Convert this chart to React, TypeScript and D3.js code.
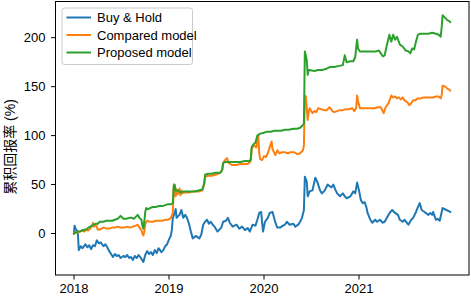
import React from "react";
import * as d3 from "d3";

// Decimal-year time stamps and cumulative return (%) for each series
const buyHoldDates = [2018.0, 2018.005, 2018.016, 2018.03, 2018.04, 2018.05, 2018.07, 2018.09, 2018.12, 2018.14, 2018.16, 2018.18, 2018.2, 2018.22, 2018.24, 2018.26, 2018.28, 2018.31, 2018.33, 2018.35, 2018.37, 2018.39, 2018.41, 2018.43, 2018.45, 2018.47, 2018.49, 2018.52, 2018.54, 2018.56, 2018.58, 2018.6, 2018.62, 2018.64, 2018.66, 2018.68, 2018.71, 2018.73, 2018.75, 2018.77, 2018.79, 2018.81, 2018.83, 2018.85, 2018.87, 2018.89, 2018.92, 2018.94, 2018.96, 2018.98, 2019.0, 2019.02, 2019.03, 2019.04, 2019.06, 2019.07, 2019.08, 2019.11, 2019.13, 2019.15, 2019.17, 2019.19, 2019.21, 2019.23, 2019.25, 2019.28, 2019.32, 2019.34, 2019.36, 2019.38, 2019.4, 2019.42, 2019.44, 2019.46, 2019.48, 2019.51, 2019.53, 2019.55, 2019.57, 2019.6, 2019.62, 2019.64, 2019.67, 2019.71, 2019.74, 2019.77, 2019.8, 2019.83, 2019.85, 2019.88, 2019.91, 2019.93, 2019.95, 2019.97, 2019.98, 2019.99, 2020.01, 2020.04, 2020.06, 2020.09, 2020.12, 2020.14, 2020.17, 2020.2, 2020.22, 2020.24, 2020.27, 2020.31, 2020.33, 2020.36, 2020.38, 2020.4, 2020.42, 2020.43, 2020.45, 2020.46, 2020.48, 2020.51, 2020.54, 2020.56, 2020.59, 2020.61, 2020.64, 2020.67, 2020.71, 2020.73, 2020.75, 2020.77, 2020.8, 2020.83, 2020.85, 2020.87, 2020.91, 2020.94, 2020.96, 2020.98, 2021.0, 2021.02, 2021.04, 2021.06, 2021.08, 2021.09, 2021.12, 2021.14, 2021.17, 2021.19, 2021.22, 2021.25, 2021.27, 2021.31, 2021.33, 2021.35, 2021.38, 2021.41, 2021.43, 2021.46, 2021.48, 2021.52, 2021.55, 2021.57, 2021.6, 2021.62, 2021.64, 2021.66, 2021.69, 2021.73, 2021.75, 2021.77, 2021.78, 2021.81, 2021.83, 2021.85, 2021.88, 2021.92, 2021.94, 2021.96];
const buyHoldValues = [0, 8, 5, 3, 1, -17, -13, -15, -11, -14, -12, -16, -12, -13, -7, -10, -9, -13, -11, -14, -18, -21, -24, -21, -23, -22, -25, -23, -24, -22, -25, -24, -27, -23, -25, -22, -26, -29, -22, -18, -21, -19, -22, -17, -20, -15, -19, -17, -13, -11, -6, -2, 4, 16, 21, 25, 16, 19, 24, 16, 19, 16, 10, 2, -5, -2.5, -5, -1, 9, 12, 14, 10, 12, 9, 7, 2, 4, 6, 12, 13, 16, 11, 7, 9, 5, 7, 3.5, 5.5, 2, 9, 8, 14, 21, 22, 11, 2, 12, 16, 21, 22, 11, 6, 6, 8, 9, 12, 9, 10, 7, 9, 12, 16, 24, 58, 53, 38, 43, 44, 57, 53, 44, 41, 44, 50, 47, 50, 45, 41, 38, 41, 38, 36, 38, 43, 41, 52, 44, 34, 31, 32, 26, 21, 14, 11, 14, 12, 14, 11, 12, 19, 22, 24, 21, 19, 14, 12, 14, 9, 14, 16, 22, 27, 31, 24, 22, 19, 21, 19, 22, 14, 15, 13, 26, 24, 23, 22];

const comparedDates = [2018.0, 2018.02, 2018.04, 2018.06, 2018.08, 2018.11, 2018.13, 2018.15, 2018.17, 2018.19, 2018.2, 2018.21, 2018.23, 2018.25, 2018.27, 2018.31, 2018.34, 2018.37, 2018.4, 2018.43, 2018.46, 2018.49, 2018.53, 2018.56, 2018.59, 2018.62, 2018.65, 2018.67, 2018.69, 2018.71, 2018.72, 2018.73, 2018.74, 2018.75, 2018.77, 2018.8, 2018.83, 2018.86, 2018.89, 2018.93, 2018.96, 2018.99, 2019.02, 2019.04, 2019.05, 2019.06, 2019.07, 2019.08, 2019.09, 2019.11, 2019.12, 2019.13, 2019.14, 2019.16, 2019.19, 2019.22, 2019.25, 2019.28, 2019.32, 2019.35, 2019.37, 2019.38, 2019.41, 2019.45, 2019.49, 2019.54, 2019.56, 2019.57, 2019.59, 2019.61, 2019.63, 2019.66, 2019.71, 2019.75, 2019.79, 2019.83, 2019.86, 2019.87, 2019.89, 2019.92, 2019.93, 2019.94, 2019.95, 2019.96, 2019.98, 2020.0, 2020.02, 2020.04, 2020.06, 2020.08, 2020.09, 2020.12, 2020.14, 2020.16, 2020.19, 2020.22, 2020.25, 2020.28, 2020.32, 2020.35, 2020.38, 2020.41, 2020.42, 2020.43, 2020.44, 2020.45, 2020.46, 2020.47, 2020.48, 2020.51, 2020.53, 2020.55, 2020.57, 2020.6, 2020.63, 2020.66, 2020.69, 2020.72, 2020.74, 2020.77, 2020.8, 2020.83, 2020.86, 2020.89, 2020.93, 2020.95, 2020.97, 2020.98, 2020.99, 2021.01, 2021.04, 2021.07, 2021.12, 2021.16, 2021.2, 2021.23, 2021.26, 2021.28, 2021.31, 2021.34, 2021.36, 2021.38, 2021.4, 2021.42, 2021.44, 2021.46, 2021.48, 2021.51, 2021.53, 2021.55, 2021.57, 2021.59, 2021.62, 2021.65, 2021.68, 2021.72, 2021.75, 2021.78, 2021.81, 2021.84, 2021.86, 2021.87, 2021.88, 2021.91, 2021.93, 2021.95, 2021.96];
const comparedValues = [0, 2, 1, 2, 3, 2, 4, 3, 5, 8, 11, 7, 9, 4, 4, 6, 5, 5, 6, 6, 7, 6, 6, 7, 6, 7, 8, 9, 6, 3, 0, -2, 2, 10, 13, 12, 12, 13, 13, 13, 14, 14, 16, 21, 50, 46, 38, 45, 40, 46, 39, 44, 41, 42, 42, 42, 43, 43, 43, 44, 50, 58, 59, 59, 60, 62, 65, 72, 75, 77, 72, 70, 70, 71, 71, 71, 74, 86, 90, 88, 97, 100, 82, 76, 75, 79, 78, 82, 88, 94, 86, 80, 85, 82, 83, 83, 82, 83, 83, 81, 82, 85, 90, 141, 140, 128, 116, 124, 128, 123, 125, 124, 128, 127, 126, 126, 129, 125, 124, 125, 126, 126, 127, 127, 128, 125, 128, 141, 135, 128, 128, 128, 128, 128, 129, 129, 123, 129, 133, 141, 139, 140, 138, 139, 137, 139, 136, 134, 131, 133, 136, 136, 138, 138, 139, 139, 139, 139, 140, 140, 138, 141, 151, 150, 148, 147, 146];

const proposedDates = [2018.0, 2018.02, 2018.04, 2018.06, 2018.08, 2018.11, 2018.13, 2018.15, 2018.17, 2018.19, 2018.21, 2018.23, 2018.25, 2018.27, 2018.31, 2018.34, 2018.37, 2018.4, 2018.43, 2018.46, 2018.49, 2018.52, 2018.55, 2018.58, 2018.61, 2018.63, 2018.65, 2018.67, 2018.69, 2018.71, 2018.72, 2018.73, 2018.74, 2018.75, 2018.76, 2018.78, 2018.8, 2018.83, 2018.86, 2018.89, 2018.93, 2018.96, 2018.99, 2019.02, 2019.04, 2019.05, 2019.06, 2019.07, 2019.09, 2019.12, 2019.15, 2019.18, 2019.22, 2019.26, 2019.31, 2019.35, 2019.37, 2019.38, 2019.41, 2019.45, 2019.49, 2019.54, 2019.56, 2019.57, 2019.59, 2019.64, 2019.69, 2019.75, 2019.8, 2019.85, 2019.86, 2019.87, 2019.88, 2019.91, 2019.93, 2019.96, 2020.0, 2020.03, 2020.07, 2020.11, 2020.14, 2020.18, 2020.22, 2020.26, 2020.31, 2020.35, 2020.38, 2020.41, 2020.42, 2020.43, 2020.44, 2020.45, 2020.46, 2020.47, 2020.48, 2020.53, 2020.57, 2020.61, 2020.65, 2020.69, 2020.74, 2020.78, 2020.83, 2020.85, 2020.87, 2020.91, 2020.94, 2020.96, 2020.98, 2020.99, 2021.01, 2021.05, 2021.09, 2021.14, 2021.18, 2021.21, 2021.23, 2021.25, 2021.27, 2021.29, 2021.32, 2021.34, 2021.36, 2021.38, 2021.4, 2021.43, 2021.46, 2021.49, 2021.52, 2021.54, 2021.56, 2021.58, 2021.6, 2021.62, 2021.64, 2021.68, 2021.73, 2021.77, 2021.81, 2021.84, 2021.86, 2021.87, 2021.88, 2021.91, 2021.93, 2021.95, 2021.96];
const proposedValues = [0, 1, 2, 2, 3, 4, 4, 6, 7, 8, 9, 10, 10, 12, 12, 13, 13, 13, 14, 15, 18, 15, 15, 16, 16, 15, 17, 19, 16, 14, 8, 5, 12, 22, 26, 25, 26, 27, 27, 28, 28, 29, 30, 30, 31, 48, 50, 44, 44, 42, 43, 43, 43, 43, 44, 45, 51, 60, 61, 61, 62, 62, 65, 72, 73, 73, 73, 73, 74, 74, 76, 88, 90, 93, 100, 102, 103, 104, 104, 105, 105, 105, 106, 106, 107, 107, 108, 111, 112, 186, 182, 177, 162, 167, 167, 166, 167, 167, 168, 170, 170, 171, 172, 182, 175, 176, 176, 180, 198, 189, 186, 186, 186, 186, 186, 187, 184, 181, 182, 191, 203, 196, 203, 198, 201, 193, 191, 187, 186, 184, 189, 188, 196, 203, 204, 204, 204, 205, 204, 203, 201, 210, 223, 220, 218, 217, 216];

const seriesNames = ["Buy & Hold", "Compared model", "Proposed model"];
const seriesColors = ["#1f77b4", "#ff7f0e", "#2ca02c"];
const xTicks = [2018, 2019, 2020, 2021];
const yTicks = [0, 50, 100, 150, 200];
const yLabel = "累积回报率 (%)";

const W = 471;
const H = 296;
const left = 55.5;
const right = 469;
const top = 1.5;
const bottom = 275;
const FONT = "'Liberation Sans', Arial, 'Noto Sans CJK SC', sans-serif";

export default function App() {
  const x = d3.scaleLinear().domain([2017.805, 2022.158]).range([left, right]);
  const y = d3.scaleLinear().domain([-42.4, 237]).range([bottom, top]);

  const series = [
    { dates: buyHoldDates, values: buyHoldValues },
    { dates: comparedDates, values: comparedValues },
    { dates: proposedDates, values: proposedValues },
  ];

  const line = d3
    .line<[number, number]>()
    .x((d) => x(d[0]))
    .y((d) => y(d[1]));

  return (
    <svg
      width={W}
      height={H}
      style={{ position: "absolute", left: 0, top: 0, background: "#fff" }}
      fontFamily={FONT}
    >
      <rect x={0} y={0} width={W} height={H} fill="#fff" />
      <defs>
        <clipPath id="plotClip">
          <rect x={left} y={top} width={right - left} height={bottom - top} />
        </clipPath>
      </defs>
      <g clipPath="url(#plotClip)">
        {series.map((s, i) => (
          <path
            key={i}
            d={line(s.dates.map((d, j) => [d, s.values[j]] as [number, number])) || ""}
            fill="none"
            stroke={seriesColors[i]}
            strokeWidth={2}
            strokeLinejoin="round"
            strokeLinecap="square"
          />
        ))}
      </g>
      <rect
        x={left}
        y={top}
        width={right - left}
        height={bottom - top}
        fill="none"
        stroke="#000"
        strokeWidth={1}
      />
      {xTicks.map((t) => (
        <g key={t} transform={`translate(${x(t)},${bottom})`}>
          <line y1={0} y2={4.5} stroke="#000" strokeWidth={1} />
          <text y={18} textAnchor="middle" fontSize={13} fill="#000">
            {t}
          </text>
        </g>
      ))}
      {yTicks.map((t) => (
        <g key={t} transform={`translate(${left},${y(t)})`}>
          <line x1={0} x2={-4.5} stroke="#000" strokeWidth={1} />
          <text x={-10} dy="0.35em" textAnchor="end" fontSize={13} fill="#000">
            {t}
          </text>
        </g>
      ))}
      <text
        transform={`translate(10,147) rotate(-90)`}
        textAnchor="middle"
        dy="0.35em"
        fontSize={14}
        fill="#000"
      >
        {yLabel}
      </text>
      <g>
        <rect
          x={62}
          y={8}
          width={130.5}
          height={56.5}
          rx={2.5}
          fill="#fff"
          fillOpacity={0.8}
          stroke="#ccc"
          strokeWidth={1}
        />
        {seriesNames.map((n, i) => (
          <g key={n} transform={`translate(0,${17.5 + i * 17.5})`}>
            <line x1={66.5} x2={91} stroke={seriesColors[i]} strokeWidth={2} />
            <text x={97} dy="0.35em" fontSize={13} fill="#000">
              {n}
            </text>
          </g>
        ))}
      </g>
    </svg>
  );
}
